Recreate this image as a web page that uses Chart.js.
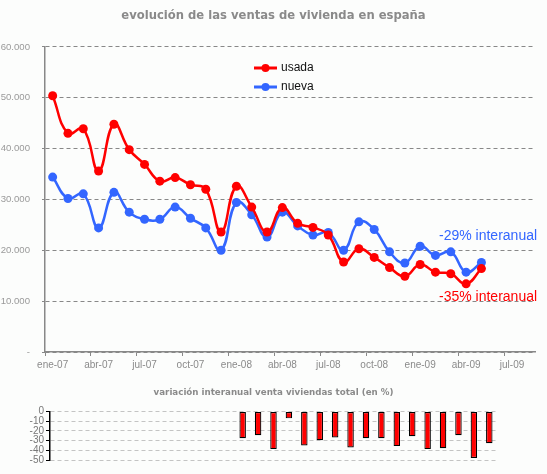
<!DOCTYPE html>
<html>
<head>
<meta charset="utf-8">
<script src="https://cdn.jsdelivr.net/npm/chart.js@4"></script>
<style>
  html, body { margin: 0; padding: 0; background: #fcfdfc; }
  .box { position: absolute; left: 0; width: 547px; }
</style>
</head>
<body>
<div class="box" style="top:0;height:380px"><canvas id="ventasChart"></canvas></div>
<div class="box" style="top:380px;height:94px"><canvas id="variacionChart"></canvas></div>
<script>
// months on the axis (ene-07 .. ago-09)
const months = ["ene-07","feb-07","mar-07","abr-07","may-07","jun-07","jul-07","ago-07","sep-07","oct-07","nov-07","dic-07",
  "ene-08","feb-08","mar-08","abr-08","may-08","jun-08","jul-08","ago-08","sep-08","oct-08","nov-08","dic-08",
  "ene-09","feb-09","mar-09","abr-09","may-09","jun-09","jul-09","ago-09"];

// monthly sales, ene-07 .. may-09
const usada = [50400, 43000, 43900, 35600, 44800, 39800, 36900, 33600, 34300, 32900, 32000, 23600,
  32600, 28500, 23600, 28400, 25300, 24500, 23000, 17700, 20300, 18600, 16600, 14900,
  17200, 15700, 15400, 13400, 16400];
const nueva = [34400, 30200, 31100, 24400, 31400, 27500, 26100, 26100, 28500, 26300, 24400, 20000,
  29400, 27000, 22600, 27500, 24800, 23000, 23500, 20000, 25600, 24100, 19700, 17500,
  20800, 19000, 19700, 15700, 17600];

// year-on-year change of total sales (%), only from ene-08
const variacion = [null, null, null, null, null, null, null, null, null, null, null, null,
  -27.6, -24.5, -38.8, -7.1, -35.1, -29.6, -26.9, -37.1, -27.6, -27.6, -35.7, -25.5,
  -38.8, -37.8, -24.5, -48.0, -32.7];

const notes = ["-29% interanual", "-35% interanual"];

const RED = "#ff0000";
const BLUE = "#3366ff";

// empty axis on the right, only to leave room there
const spacer = w => ({
  position: "right",
  display: true,
  grid: { display: false },
  border: { display: false },
  ticks: { display: false },
  afterFit: s => { s.width = w; }
});

// legend with line + dot, and the two notes on the right
const extras = {
  id: "extras",
  afterDraw(chart) {
    const ctx = chart.ctx;
    ctx.save();
    chart.data.datasets.forEach((ds, i) => {
      const y = 68 + i * 19;
      ctx.strokeStyle = ds.borderColor;
      ctx.lineWidth = 3;
      ctx.beginPath();
      ctx.moveTo(254, y);
      ctx.lineTo(277, y);
      ctx.stroke();
      ctx.fillStyle = ds.borderColor;
      ctx.beginPath();
      ctx.arc(265.5, y, 4, 0, Math.PI * 2);
      ctx.fill();
      ctx.font = '12px "Liberation Sans"';
      ctx.fillStyle = "#111";
      ctx.textBaseline = "middle";
      ctx.fillText(ds.label, 281, y);
    });
    ctx.font = '14px "Liberation Sans"';
    ctx.textBaseline = "middle";
    ctx.fillStyle = BLUE;
    ctx.fillText(notes[0], 439, 236);
    ctx.fillStyle = RED;
    ctx.fillText(notes[1], 439, 297);
    ctx.restore();
  }
};

new Chart(document.getElementById("ventasChart"), {
  type: "line",
  data: {
    labels: months,
    datasets: [
      { label: "usada", data: usada, borderColor: RED, backgroundColor: RED },
      { label: "nueva", data: nueva, borderColor: BLUE, backgroundColor: BLUE }
    ]
  },
  options: {
    responsive: true,
    maintainAspectRatio: false,
    animation: false,
    datasets: {
      line: {
        borderWidth: 2.5,
        tension: 0.45,
        pointRadius: 4.5,
        pointBorderWidth: 0,
        pointHoverRadius: 4.5
      }
    },
    layout: { padding: 0 },
    plugins: {
      legend: { display: false },
      tooltip: { enabled: false },
      title: {
        display: true,
        text: "evolución de las ventas de vivienda en españa",
        color: "#8a8a8a",
        font: { family: '"DejaVu Sans"', size: 11.6, weight: "bold" },
        padding: { top: 9, bottom: 24 }
      }
    },
    scales: {
      x: {
        type: "category",
        offset: true,
        afterFit: s => { s.height = 28; },
        grid: {
          offset: true,
          drawOnChartArea: false,
          tickLength: 4,
          tickColor: c => (c.index % 3 === 0 ? "#888" : "transparent")
        },
        border: { color: "#888", width: 1.5 },
        ticks: {
          autoSkip: false,
          maxRotation: 0,
          padding: 3,
          color: "#8a8a8a",
          font: { family: '"Liberation Sans"', size: 10 },
          callback: function (v, i) { return i % 3 === 0 ? this.getLabelForValue(v) : ""; }
        }
      },
      y: {
        min: 0,
        max: 60000,
        afterFit: s => { s.width = 45; },
        grid: { color: "#888", lineWidth: 1, tickLength: 3, tickBorderDash: [] },
        border: { color: "#888", width: 1.5, dash: [4, 3] },
        ticks: {
          stepSize: 10000,
          autoSkip: false,
          padding: 12,
          color: "#9a9a9a",
          font: { family: '"Liberation Sans"', size: 9.6 },
          callback: v => (v === 0 ? "-" : (v / 1000) + ".000")
        }
      },
      pad: spacer(12)
    }
  },
  plugins: [extras]
});

new Chart(document.getElementById("variacionChart"), {
  type: "bar",
  data: {
    labels: months.slice(0, variacion.length),
    datasets: [{
      label: "variación",
      data: variacion,
      backgroundColor: RED,
      borderColor: "#000",
      borderWidth: 1.2,
      borderSkipped: false,
      categoryPercentage: 1,
      barPercentage: 0.42
    }]
  },
  options: {
    responsive: true,
    maintainAspectRatio: false,
    animation: false,
    layout: { padding: { bottom: 14 } },
    plugins: {
      legend: { display: false },
      tooltip: { enabled: false },
      title: {
        display: true,
        text: "variación interanual venta viviendas total (en %)",
        color: "#8a8a8a",
        font: { family: '"DejaVu Sans"', size: 8.7, weight: "bold" },
        padding: { top: 8, bottom: 13 }
      }
    },
    scales: {
      x: { display: false, offset: true },
      y: {
        min: -50,
        max: 0,
        afterFit: s => { s.width = 50; },
        grid: { color: "#c4c4c4", tickColor: "#000", tickLength: 4, tickBorderDash: [] },
        border: { color: "#000", width: 1.5, dash: [4, 3] },
        ticks: {
          stepSize: 10,
          autoSkip: false,
          padding: 2,
          color: "#777",
          font: { family: '"Liberation Sans"', size: 10 }
        }
      },
      pad: spacer(50)
    }
  }
});
</script>
</body>
</html>
